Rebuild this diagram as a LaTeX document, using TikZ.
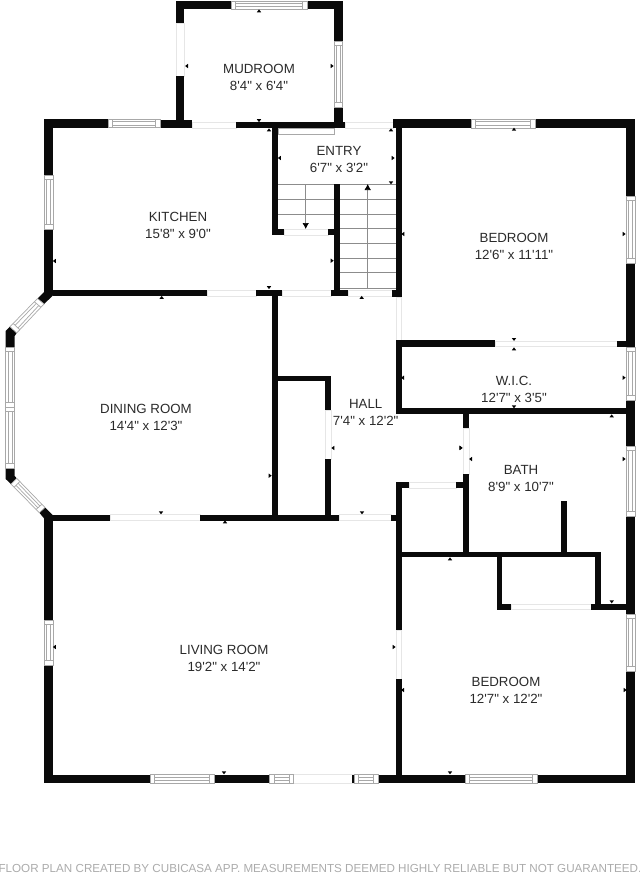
\documentclass[tikz,border=0pt]{standalone}
\usepackage{fontspec}
\setmainfont{Liberation Sans}[Ligatures=TeXOff]
\usetikzlibrary{arrows.meta}
\definecolor{wallblack}{HTML}{0A0A0A}
\definecolor{wingray}{HTML}{A8A8A8}
\definecolor{doorgray}{HTML}{E6E6E6}
\definecolor{stepgray}{HTML}{8C8C8C}
\definecolor{labelgray}{HTML}{2A2A2A}
\definecolor{footgray}{HTML}{ABABAB}
\tikzset{
	wall/.style={fill=wallblack, draw=none},
	doorway/.style={draw=doorgray, line width=0.7pt, fill=white},
	winframe/.style={draw=wingray, line width=0.7pt, fill=white},
	stepline/.style={draw=stepgray, line width=0.6pt},
	dimtick/.style={fill=black, draw=none},
	room/.style={align=center, text=labelgray, inner sep=0pt, font=\fontsize{13.3}{17}\selectfont}
}
% horizontal and vertical windows: x1, y1, x2, y2
\newcommand{\hwin}[4]{
	\draw[winframe] (#1,#2) rectangle (#3,#4);
	\draw[winframe] (#1+4.5,#2) -- (#1+4.5,#4);
	\draw[winframe] (#3-4.5,#2) -- (#3-4.5,#4);
	\draw[winframe] (#1+4.5,#2+2.6) -- (#3-4.5,#2+2.6);
	\draw[winframe] (#1+4.5,#4-2.6) -- (#3-4.5,#4-2.6);
}
\newcommand{\vwin}[4]{
	\draw[winframe] (#1,#2) rectangle (#3,#4);
	\draw[winframe] (#1,#2+4.5) -- (#3,#2+4.5);
	\draw[winframe] (#1,#4-4.5) -- (#3,#4-4.5);
	\draw[winframe] (#1+2.6,#2+4.5) -- (#1+2.6,#4-4.5);
	\draw[winframe] (#3-2.6,#2+4.5) -- (#3-2.6,#4-4.5);
}

\begin{document}
\begin{tikzpicture}[x=1pt,y=-1pt]
	\useasboundingbox (0,0) rectangle (640,873);
	% Doorways
	\foreach \xa/\ya/\xb/\yb in {176/23/184/76, 192/122/236/128, 345/122/393/128,
		207/290/256/296, 282/290/331/296, 348/290/392/296, 396/297/401.5/341,
		110/514.5/200/520.5, 339/514.5/391/520.5, 325/410/331/459, 463/428/469/474,
		409/482/456/488, 495/341/617/346.5, 511/604/591/609.5, 396/630/401.5/679,
		284/229/328/235, 293.5/774.5/353/783}
		\draw[doorway] (\xa,\ya) rectangle (\xb,\yb);
	% Walls
	\foreach \xa/\ya/\xb/\yb in {
		176/1/231/9.3, 307/1/342.7/9.3, 176/1/184.3/23, 176/76/184.3/128,
		334/1/342.7/41, 334/107/342.7/128, 236/122/345/128,
		44/119/108/127.5, 160/120/192/128, 44/119/53/175, 44/229/53/292,
		53/290/207/296, 256/290/282/296, 331/290/348/296, 392/290/401.5/296.5,
		272/128/278/235, 272/229/284/235, 328/229/340/235, 334/184/340/296,
		393/119/471/128, 535/119/635/128, 395.5/119/401.5/297,
		626/119/635/196, 626/263/635/347, 626/400/635/446, 626/516/635/614, 626/671/635/783,
		396/340/495/346.5, 617/341/635/346.5, 396/340/401.5/414, 396/408.3/635/414,
		463/408.3/469/428, 463/474/469/557, 456/481.7/469/487.7, 396/481.7/409/487.7,
		396/482/401.5/630, 396/679/401.5/783, 401/551.7/600.7/557.3,
		595/551.7/600.7/609.5, 496.7/551.7/502.3/609.5, 496.7/604/511/609.5, 591/604/635/609.5,
		560.7/501/566.5/552,
		272/290/277.8/520, 272/375.7/331/381, 325/375.7/331/410, 325/459/331/520,
		44/514.5/110/520.5, 200/514.5/339/520.5, 391/514.5/401.5/520.5,
		44/515/53/620, 44/665/53/783,
		44/774.5/150/783, 214/774.5/269.5/783, 352/774.5/354/783, 378/774.5/465/783, 537/774.5/635/783}
		\fill[wall] (\xa,\ya) rectangle (\xb,\yb);
	% Bay corners
	\fill[wall] (44,290) -- (53,290) -- (53,295.5) -- (44,304) -- (37.5,298.5) -- (44,292) -- cycle;
	\fill[wall] (10,326.7) -- (16.7,333) -- (14.7,336) -- (14.7,347) -- (5.7,347) -- (5.7,331) -- cycle;
	\fill[wall] (5.7,468) -- (14.7,468) -- (14.7,476) -- (16.7,478.3) -- (11,484) -- (5.7,479) -- cycle;
	\fill[wall] (45,507.5) -- (52.7,515) -- (52.7,525) -- (44,525) -- (44,518.3) -- (39.3,512.7) -- cycle;
	% Windows
	\hwin{231}{1}{307}{9.3}
	\vwin{334}{41}{342.7}{107}
	\hwin{108}{119}{160}{127.5}
	\vwin{44}{175}{53}{229}
	\hwin{471}{119}{535}{128}
	\vwin{626}{196}{635}{263}
	\vwin{626}{347}{635}{400}
	\vwin{626}{446}{635}{516}
	\vwin{626}{614}{635}{671}
	\vwin{44}{620}{53}{665}
	\hwin{150}{774.5}{214}{783}
	\hwin{269.5}{774.5}{293.5}{783}
	\hwin{354}{774.5}{378}{783}
	\hwin{465}{774.5}{537}{783}
	\vwin{5.7}{347}{14.7}{407}
	\vwin{5.7}{407}{14.7}{468}
	% Angled bay windows
	\draw[winframe] (37.5,298.5) -- (44,304) -- (16.7,333) -- (10,326.7) -- cycle;
	\draw[winframe] (34.3,301.7) -- (40.8,307.2) (13.2,323.5) -- (19.9,329.8);
	\draw[winframe] (36.2,303.5) -- (15.1,325.3) (38.9,305.4) -- (18,328);
	\draw[winframe] (11,484) -- (16.7,478.3) -- (45,507.5) -- (39.3,512.7) -- cycle;
	\draw[winframe] (14.2,487.2) -- (19.9,481.5) (36.1,509.5) -- (41.8,504.3);
	\draw[winframe] (16,485.4) -- (37.9,507.7) (18.1,483.3) -- (40,506.1);
	% Entry door leaf
	\draw[draw=wingray, line width=0.6pt] (278,128) rectangle (334,134);
	% Stairs
	\foreach \sy in {184,199.3,214.3}
		\draw[stepline] (278,\sy) -- (334,\sy);
	\foreach \sy in {184,199.3,214,228.7,243.3,258,272.7,288.7}
		\draw[stepline] (340,\sy) -- (395.5,\sy);
	\draw[doorway] (284,229) -- (328,229);
	\coordinate (downstart) at (305.7,184);
	\coordinate (downend) at (305.7,229);
	\coordinate (upstart) at (367.7,289);
	\coordinate (upend) at (367.7,184);
	\draw[stepline, -{Latex[length=6pt,width=6.5pt,black]}] (downstart) -- (downend);
	\draw[stepline, -{Latex[length=6pt,width=6.5pt,black]}] (upstart) -- (upend);
	% Dimension ticks: x, y, angle (0 up, 90 left, 180 down, 270 right)
	\foreach \tx/\ty/\ta in {
		259/11/0, 186.7/66/90, 332/66/270, 259/120.5/180,
		269/130/0, 279.5/158/90, 393/158/270, 391/182.7/180, 391/130/0,
		403/234/90, 332/260.7/270, 269/287.5/180, 361.7/297.5/0,
		161.7/297.5/0, 54.5/261/90, 270/475.7/270, 161/512.7/180,
		333/448/90, 461/448/270, 362/512.7/180, 402.7/377.7/90,
		470.7/459/90, 460.7/447.7/270, 624/377.7/270, 624/459/270,
		514/349/0, 514/339.3/180, 514/406.7/180, 611.7/416/0, 611.7/601.7/180,
		450/559/0, 402.7/690/90, 625/690/270, 450/772.7/180, 394/647/270,
		224/772.7/180, 225/522/0, 54.5/647/90, 514/129.3/0, 624/234/270}
		\fill[dimtick, shift={(\tx,\ty)}, rotate=\ta] (0pt,1.6pt) -- (-2.2pt,-1.3pt) -- (2.2pt,-1.3pt) -- cycle;
	% Room labels
	\node[room] (mudroom) at (259,77.5) {MUDROOM\\8'4" x 6'4"};
	\node[room] (entry) at (339,159.5) {ENTRY\\6'7" x 3'2"};
	\node[room] (kitchen) at (178,225) {KITCHEN\\15'8" x 9'0"};
	\node[room] (bedroomtop) at (514,246) {BEDROOM\\12'6" x 11'11"};
	\node[room] (wic) at (514,389.5) {W.I.C.\\12'7" x 3'5"};
	\node[room] (hall) at (365.7,412.5) {HALL\\7'4" x 12'2"};
	\node[room] (bath) at (521,478) {BATH\\8'9" x 10'7"};
	\node[room] (dining) at (146,417) {DINING ROOM\\14'4" x 12'3"};
	\node[room] (living) at (224,658.5) {LIVING ROOM\\19'2" x 14'2"};
	\node[room] (bedroomlow) at (506,690.5) {BEDROOM\\12'7" x 12'2"};
	% Footer
	\node[text=footgray, inner sep=0pt, anchor=center, font=\fontsize{11.65}{13}\selectfont] (footer) at (320,868)
		{FLOOR PLAN CREATED BY CUBICASA APP. MEASUREMENTS DEEMED HIGHLY RELIABLE BUT NOT GUARANTEED.};
\end{tikzpicture}
\end{document}
